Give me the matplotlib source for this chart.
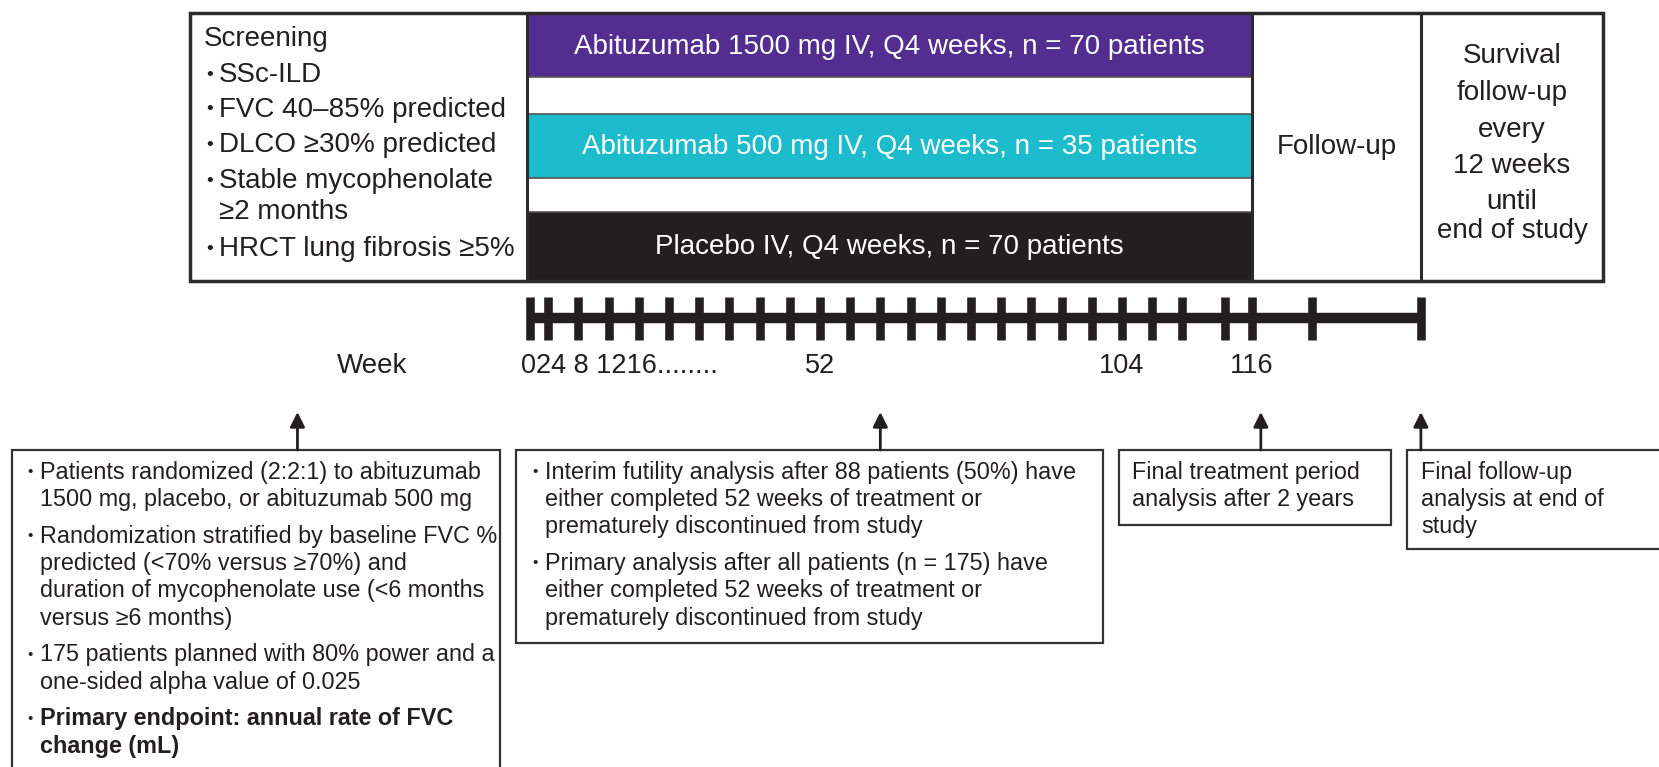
import matplotlib.pyplot as plt
from matplotlib.patches import Rectangle

# ---- content ----
arm_labels = ['Abituzumab 1500 mg IV, Q4 weeks, n = 70 patients',
              'Abituzumab 500 mg IV, Q4 weeks, n = 35 patients',
              'Placebo IV, Q4 weeks, n = 70 patients']
arm_colors = ['#532D8F', '#1DBCCD', '#231F20']

screening_title = 'Screening'
screening_items = ['SSc-ILD', 'FVC 40–85% predicted', 'DLCO ≥30% predicted',
                   'Stable mycophenolate\n≥2 months', 'HRCT lung fibrosis ≥5%']

followup_label = 'Follow-up'
survival_lines = ['Survival', 'follow-up', 'every', '12 weeks', 'until', 'end of study']

# schematic timeline (one unit = one visit slot)
timeline_ticks = [0, 0.6, 1.6, 2.6, 3.6, 4.6, 5.6, 6.6, 7.6, 8.6, 9.6, 10.6, 11.6,
                  12.6, 13.6, 14.6, 15.6, 16.6, 17.6, 18.6, 19.6, 20.6, 21.6,
                  23.0, 23.9, 25.9, 29.5]
start_label = '024 8 1216........'
week_labels = ['52', '104', '116']
week_label_pos = [9.6, 19.6, 23.9]
arrow_pos = [-7.7, 11.6, 24.2, 29.5]

box1 = [['Patients randomized (2:2:1) to abituzumab', '1500 mg, placebo, or abituzumab 500 mg'],
        ['Randomization stratified by baseline FVC %', 'predicted (<70% versus ≥70%) and',
         'duration of mycophenolate use (<6 months', 'versus ≥6 months)'],
        ['175 patients planned with 80% power and a', 'one-sided alpha value of 0.025'],
        ['Primary endpoint: annual rate of FVC', 'change (mL)']]
box2 = [['Interim futility analysis after 88 patients (50%) have',
         'either completed 52 weeks of treatment or', 'prematurely discontinued from study'],
        ['Primary analysis after all patients (n = 175) have',
         'either completed 52 weeks of treatment or', 'prematurely discontinued from study']]
box3 = ['Final treatment period', 'analysis after 2 years']
box4 = ['Final follow-up', 'analysis at end of', 'study']

DARK = '#231F20'
REG = ['Liberation Sans', 'DejaVu Sans']
FS_BOX = 16.8

fig = plt.figure(figsize=(16.59, 7.67), dpi=100)
ax = fig.add_axes([0, 0, 1, 1])
ax.set_xlim(0, 1659)
ax.set_ylim(767, 0)
ax.axis('off')

# ---- top design box ----
L, R, T, B = 190, 1603, 13, 281
xs, xb, xf = 527, 1252, 1421
bar_y = [(15, 77), (114, 178), (212, 281)]
for (y0, y1), lab, col in zip(bar_y, arm_labels, arm_colors):
    ax.add_patch(Rectangle((xs, y0), xb - xs, y1 - y0, facecolor=col, edgecolor='none'))
    ax.text((xs + xb) / 2, (y0 + y1) / 2 + 1, lab, color='white', fontsize=20,
            family=REG, ha='center', va='center')
for y in [77, 114, 178, 212]:
    ax.plot([xs, xb], [y, y], color='#555555', lw=1.2)
ax.add_patch(Rectangle((L, T), R - L, B - T, facecolor='none', edgecolor='#2b2b2b', lw=2.5))
for x in [xs, xb, xf]:
    ax.plot([x, x], [T, B], color='#2b2b2b', lw=2.2)

ax.text(204, 39, screening_title, fontsize=20, family=REG, color=DARK, va='center')
sy = [75, 110, 145, 181, 249]
for y, item in zip(sy, screening_items):
    ax.text(206, y, '•', fontsize=14, family=REG, color=DARK, va='center')
    lines = item.split('\n')
    for k, ln in enumerate(lines):
        ax.text(219, y + k * 31, ln, fontsize=20, family=REG, color=DARK, va='center')

ax.text((xb + xf) / 2, 147, followup_label, fontsize=20, family=REG, color=DARK,
        ha='center', va='center')
for y, ln in zip([56, 93, 130, 166, 202, 231], survival_lines):
    ax.text((xf + R) / 2, y, ln, fontsize=20, family=REG, color=DARK, ha='center', va='center')

# ---- timeline ----
x0, unit = 530, 30.2
def tx(u):
    return x0 + u * unit

ax.plot([tx(timeline_ticks[0]), tx(timeline_ticks[-1])], [318, 318], color=DARK,
        lw=7.5, solid_capstyle='butt')
for t in timeline_ticks:
    ax.plot([tx(t), tx(t)], [297, 340], color=DARK, lw=6.2, solid_capstyle='butt')

ax.text(372, 366, 'Week', fontsize=20, family=REG, color=DARK, ha='center', va='center')
ax.text(tx(0) - 9, 366, start_label, fontsize=19.5, family=REG, color=DARK, va='center')
for lab, p in zip(week_labels, week_label_pos):
    ax.text(tx(p), 366, lab, fontsize=19.5, family=REG, color=DARK, ha='center', va='center')

for p in arrow_pos:
    ax.annotate('', xy=(tx(p), 412), xytext=(tx(p), 450),
                arrowprops=dict(arrowstyle='-|>', lw=2, color=DARK, mutation_scale=22,
                                shrinkA=0, shrinkB=0))

# ---- bottom boxes ----
def box(x0b, x1b, y0b, y1b):
    ax.add_patch(Rectangle((x0b, y0b), x1b - x0b, y1b - y0b, facecolor='white',
                           edgecolor='#333333', lw=1.6, zorder=1))

def bullets(paras, xb_, xt, y, bold_last=False):
    for i, para in enumerate(paras):
        w = 'bold' if (bold_last and i == len(paras) - 1) else 'normal'
        ax.text(xb_, y, '•', fontsize=11, family=REG, color=DARK, va='center', zorder=3)
        for ln in para:
            ax.text(xt, y, ln, fontsize=FS_BOX, family=REG, color=DARK, va='center',
                    weight=w, zorder=3)
            y += 27.5
        y += 9

box(12, 500, 450, 800)
bullets(box1, 27, 40, 472, bold_last=True)
box(516, 1103, 450, 643)
bullets(box2, 532, 545, 472)
box(1119, 1391, 450, 525)
for k, ln in enumerate(box3):
    ax.text(1132, 472 + k * 27.5, ln, fontsize=FS_BOX, family=REG, color=DARK, va='center')
box(1407, 1700, 450, 549)
for k, ln in enumerate(box4):
    ax.text(1421, 472 + k * 27.5, ln, fontsize=FS_BOX, family=REG, color=DARK, va='center')

fig.savefig('out.png', dpi=100)
